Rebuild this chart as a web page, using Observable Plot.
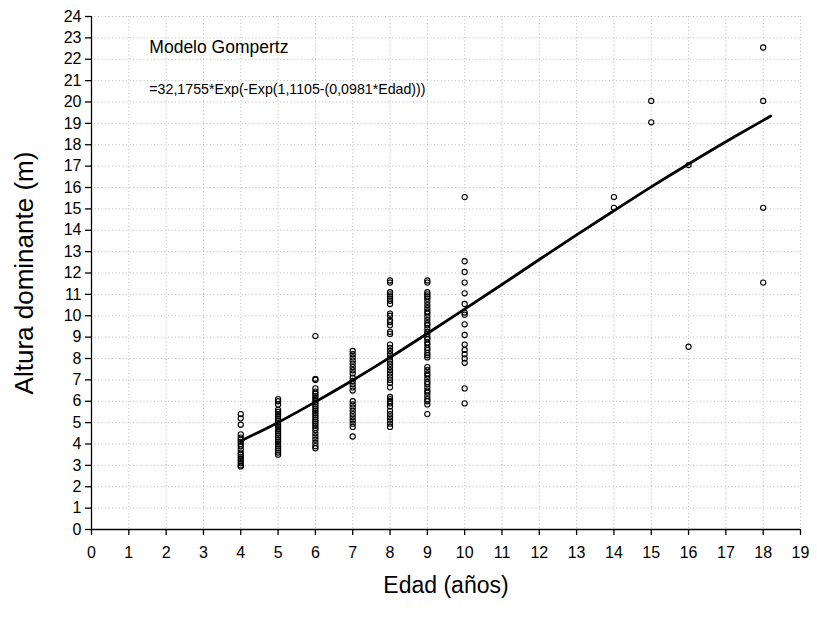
<!DOCTYPE html>
<html>
<head>
<meta charset="utf-8">
<script src="https://cdn.jsdelivr.net/npm/d3@7"></script>
<script src="https://cdn.jsdelivr.net/npm/@observablehq/plot@0.6"></script>
<style>
  html, body { margin: 0; padding: 0; background: #fff; }
  #chart { width: 817px; height: 617px; }
</style>
</head>
<body>
<div id="chart"></div>
<script>
// Observed heights (m) by age (years)
const h4  = [5.4, 5.2, 4.9, 4.45, 4.3, 4.2, 4.1, 4.0, 3.9, 3.75, 3.6, 3.5, 3.4, 3.3, 3.2, 3.1, 3.0, 2.95];
const h5  = [6.1, 6.0, 5.85, 5.6, 5.5, 5.4, 5.3, 5.2, 5.1, 5.0, 4.9, 4.8, 4.7, 4.6, 4.5, 4.4, 4.3, 4.2, 4.1, 4.0, 3.9, 3.8, 3.7, 3.6, 3.5];
const h6  = [9.05, 7.05, 7.0, 6.6, 6.45, 6.35, 6.25, 6.15, 6.05, 5.95, 5.85, 5.75, 5.65, 5.55, 5.45, 5.35, 5.25, 5.15, 5.05, 4.95, 4.85, 4.75, 4.65, 4.5, 4.35, 4.2, 4.05, 3.9, 3.8];
const h7  = [8.35, 8.2, 8.05, 7.9, 7.75, 7.6, 7.45, 7.3, 7.1, 6.95, 6.8, 6.65, 6.5, 6.0, 5.85, 5.7, 5.55, 5.4, 5.25, 5.1, 4.95, 4.8, 4.35];
const h8  = [11.65, 11.55, 11.1, 11.0, 10.9, 10.8, 10.7, 10.55, 10.1, 10.0, 9.8, 9.7, 9.55, 9.25, 9.15, 8.65, 8.5, 8.35, 8.2, 8.05, 7.9, 7.75, 7.6, 7.45, 7.3, 7.15, 7.0, 6.85, 6.65, 6.2, 6.1, 6.0, 5.9, 5.75, 5.55, 5.4, 5.25, 5.1, 4.95, 4.8];
const h9  = [11.65, 11.55, 11.1, 11.0, 10.9, 10.8, 10.65, 10.5, 10.35, 10.2, 10.1, 9.95, 9.8, 9.65, 9.55, 9.4, 9.25, 9.15, 9.0, 8.9, 8.75, 8.65, 8.5, 8.4, 8.25, 8.15, 8.05, 7.6, 7.45, 7.3, 7.2, 7.05, 6.9, 6.8, 6.65, 6.5, 6.4, 6.25, 6.1, 6.0, 5.85, 5.4];
const h10 = [15.55, 12.55, 12.05, 11.55, 11.05, 10.55, 10.15, 10.05, 9.6, 9.1, 8.65, 8.4, 8.2, 8.0, 7.8, 6.6, 5.9];
const h14 = [15.55, 15.05];
const h15 = [20.05, 19.05];
const h16 = [17.05, 8.55];
const h18 = [22.55, 20.05, 15.05, 11.55];

// Fitted Gompertz curve
const fitAge    = [4, 5, 6, 7, 8, 9, 10, 11, 12, 13, 14, 15, 16, 17, 18, 18.2];
const fitHeight = [4.14, 5.01, 5.97, 6.98, 8.05, 9.17, 10.31, 11.46, 12.63, 13.78, 14.91, 16.03, 17.10, 18.14, 19.14, 19.34];

const xTicks = d3.range(0, 20);
const yTicks = d3.range(0, 25);

const noteTitle = "Modelo Gompertz";
const noteFormula = "=32,1755*Exp(-Exp(1,1105-(0,0981*Edad)))";
const xLabel = "Edad (años)";
const yLabel = "Altura dominante (m)";

const groups = [[4, h4], [5, h5], [6, h6], [7, h7], [8, h8], [9, h9], [10, h10], [14, h14], [15, h15], [16, h16], [18, h18]];
const points = groups.flatMap(([age, hs]) => hs.map(h => ({age, h})));
const fit = fitAge.map((a, i) => ({age: a, h: fitHeight[i]}));

const chart = Plot.plot({
  width: 817,
  height: 617,
  marginLeft: 91,
  marginRight: 17,
  marginTop: 16,
  marginBottom: 88,
  style: {fontFamily: "'Liberation Sans', Arial, sans-serif", fontSize: "16px", background: "#fff", color: "#000"},
  x: {domain: [0, 19], ticks: xTicks},
  y: {domain: [0, 24], ticks: yTicks},
  marks: [
    Plot.gridX(xTicks, {stroke: "#b8b8b8", strokeOpacity: 1, strokeDasharray: "1,2.5"}),
    Plot.gridY(yTicks, {stroke: "#b8b8b8", strokeOpacity: 1, strokeDasharray: "1,2.5"}),
    Plot.ruleY([0], {stroke: "#000", strokeWidth: 1.3}),
    Plot.ruleX([0], {stroke: "#000", strokeWidth: 1.3}),
    Plot.axisX(xTicks, {tickSize: 6, tickPadding: 11, fontSize: 16, label: null, stroke: "#000", strokeWidth: 1.3}),
    Plot.axisY(yTicks, {tickSize: 6, tickPadding: 4, fontSize: 16, label: null, stroke: "#000", strokeWidth: 1.3}),
    Plot.dot(points, {x: "age", y: "h", r: 2.6, stroke: "#000", strokeWidth: 1.1, fill: "none"}),
    Plot.line(fit, {x: "age", y: "h", stroke: "#000", strokeWidth: 2.8, curve: "natural"}),
    Plot.text([noteTitle], {x: 1.55, y: 22.55, text: d => d, textAnchor: "start", fontSize: 17.5, fill: "#000"}),
    Plot.text([noteFormula], {x: 1.55, y: 20.6, text: d => d, textAnchor: "start", fontSize: 14.2, fill: "#000"}),
    Plot.text([xLabel], {frameAnchor: "bottom", textAnchor: "middle", text: d => d, dy: 63, fontSize: 23, fill: "#000"}),
    Plot.text([yLabel], {frameAnchor: "left", textAnchor: "middle", text: d => d, dx: -67, rotate: -90, fontSize: 26, fill: "#000"})
  ]
});
document.getElementById("chart").appendChild(chart);
</script>
</body>
</html>
